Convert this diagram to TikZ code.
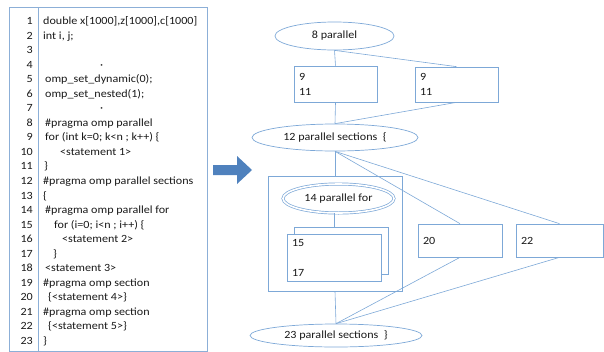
\documentclass[tikz,border=0pt]{standalone}
\usepackage{fontspec}
\setmainfont{Carlito}[FakeStretch=1.1]
\usetikzlibrary{shapes.geometric}
\definecolor{lineblue}{RGB}{125,168,215}
\definecolor{boxblue}{RGB}{140,175,215}
\definecolor{arrowblue}{RGB}{79,129,189}
\definecolor{txt}{RGB}{25,25,25}
\tikzset{
  code/.style={font=\fontsize{11}{13}\selectfont, text=txt, inner sep=0pt, anchor=base west},
  num/.style={font=\fontsize{11}{13}\selectfont, text=txt, inner sep=0pt, anchor=base east},
  conn/.style={draw=lineblue, line width=0.6pt},
  oval/.style={ellipse, draw=lineblue, line width=0.7pt, inner sep=0pt, font=\fontsize{11}{13}\selectfont, text=txt},
  sbox/.style={rectangle, draw=lineblue, line width=0.7pt, fill=white, inner xsep=5pt, inner ysep=0pt, align=left, font=\fontsize{11}{15}\selectfont, text=txt},
}
\begin{document}
\begin{tikzpicture}[x=1pt,y=-1pt]
\useasboundingbox (0,0) rectangle (604,351);
% code panel
\draw[draw=boxblue, line width=0.7pt] (9,7) rectangle (207,351.5);
\draw[draw=boxblue, line width=0.7pt] (38,7) -- (38,351.5);
\foreach \i in {1,...,23} {
  \node[num] (n\i) at (33,{24.5+(\i-1)*14.545}) {\i};
}
\foreach \i/\x/\t in {
  1/43/{double x[1000],z[1000],c[1000]},
  2/43/{int i, j;},
  4/100/{·},
  5/45/{omp\_set\_dynamic(0);},
  6/45/{omp\_set\_nested(1);},
  7/100/{·},
  8/45/{\#pragma omp parallel},
  9/45/{for (int k=0; k<n ; k++) \{},
  10/60/{<statement 1>},
  11/44/{\}},
  12/43/{\#pragma omp parallel sections},
  13/43/{\{},
  14/45/{\#pragma omp parallel for},
  15/54/{for (i=0; i<n ; i++) \{},
  16/62/{<statement 2>},
  17/53/{\}},
  18/45/{<statement 3>},
  19/43/{\#pragma omp section},
  20/48/{\{<statement 4>\}},
  21/43/{\#pragma omp section},
  22/48/{\{<statement 5>\}},
  23/43/{\}}} {
  \node[code] (c\i) at (\x,{24.5+(\i-1)*14.545}) {\t};
}
% block arrow
\fill[arrowblue] (213,165) -- (237,165) -- (237,156) -- (252,170) -- (237,184) -- (237,175) -- (213,175) -- cycle;
% diagram nodes
\node[oval, minimum width=119pt, minimum height=28pt] (e8) at (334.5,36) {8 parallel};
\node[sbox, minimum width=83pt, minimum height=36pt, text width=73pt] (b1) at (335.5,84) {9\\11};
\node[sbox, minimum width=83pt, minimum height=35pt, text width=73pt] (b2) at (456.5,84.5) {9\\11};
\node[oval, minimum width=166pt, minimum height=27pt] (e12) at (335,137.5) {12 parallel sections~~\{};
\node[rectangle, draw=lineblue, line width=0.7pt, minimum width=134pt, minimum height=115pt, inner sep=0pt] (big) at (335,233.5) {};
\node[oval, double=white, double distance=1.6pt, minimum width=111pt, minimum height=29pt] (e14) at (338.5,198.5) {14 parallel for};
\node[sbox, minimum width=94pt, minimum height=47pt, text width=84pt] (back) at (341,250.5) {};
\node[sbox, minimum width=94pt, minimum height=47pt, text width=84pt] (front) at (334,257.5) {15\\[15pt]17};
\node[sbox, minimum width=84pt, minimum height=33pt, text width=74pt] (b20) at (460,240.5) {20};
\node[sbox, minimum width=87pt, minimum height=33pt, text width=77pt] (b22) at (559.5,240.5) {22};
\node[oval, minimum width=172pt, minimum height=23pt] (e23) at (336,335.5) {23 parallel sections~~\}};
% connectors
\draw[conn] (e8.south) -- (b1.north);
\draw[conn] (e8.south) -- (b2.north);
\draw[conn] (b1.south) -- (e12.north);
\draw[conn] (b2.south) -- (e12.north);
\draw[conn] (e12.south) -- (big.north);
\draw[conn] (e12.south) -- (b20.north);
\draw[conn] (e12.south) -- (b22.north);
\draw[conn] (e14.south -| front.north) -- (front.north |- back.north);
\draw[conn] (big.south) -- (e23.north);
\draw[conn] (b20.south) -- (e23.north);
\draw[conn] (b22.south) -- (e23.north);
\end{tikzpicture}
\end{document}
